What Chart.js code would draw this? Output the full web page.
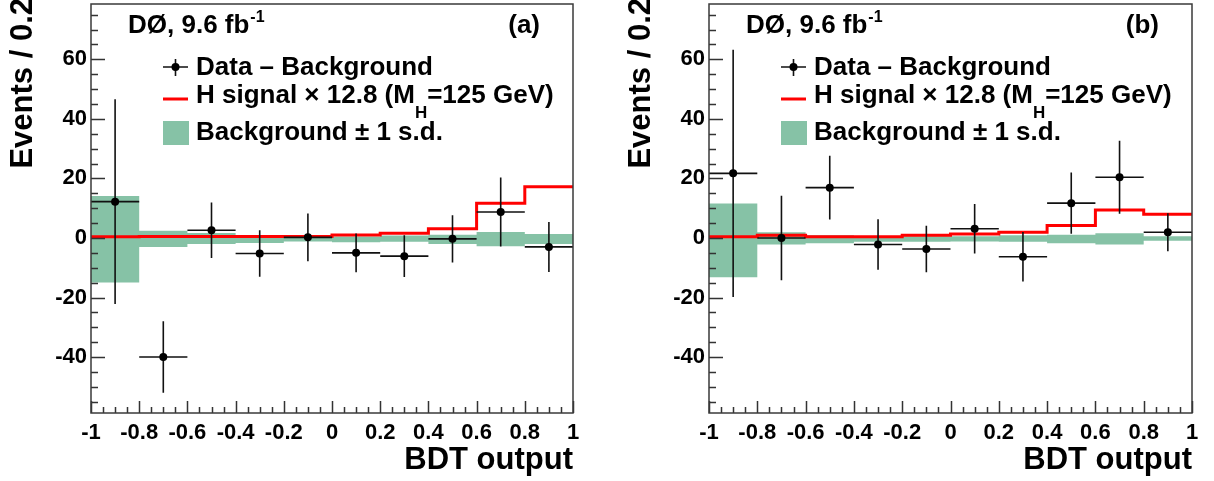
<!DOCTYPE html>
<html>
<head>
<meta charset="utf-8">
<script src="https://cdn.jsdelivr.net/npm/chart.js@4.4.0/dist/chart.umd.min.js"></script>
<style>
  body { margin: 0; background: #fff; }
  #wrap { position: relative; width: 1214px; height: 481px; }
  canvas { position: absolute; top: 0; }
</style>
</head>
<body>
<div id="wrap">
  <canvas id="panelA" width="607" height="481" style="left:0"></canvas>
  <canvas id="panelB" width="596" height="481" style="left:618px"></canvas>
</div>
<script>
// bins of the BDT output
const binEdges = [-1, -0.8, -0.6, -0.4, -0.2, 0, 0.2, 0.4, 0.6, 0.8, 1];
const binCenters = [-0.9, -0.7, -0.5, -0.3, -0.1, 0.1, 0.3, 0.5, 0.7, 0.9];
const xTickLabels = ['-1', '-0.8', '-0.6', '-0.4', '-0.2', '0', '0.2', '0.4', '0.6', '0.8', '1'];
const yTickValues = [-40, -20, 0, 20, 40, 60];

// panel (a)
const dataA = [12.2, -40, 2.6, -5.2, 0.2, -5, -6.1, -0.3, 8.7, -3];
const errA = [34.4, 12, 9.3, 7.8, 8, 6.5, 7, 7.9, 11.6, 8.4];
const signalA = [0.4, 0.5, 0.5, 0.5, 0.5, 1.0, 1.6, 3.1, 11.7, 17.2];
const bandHiA = [14.1, 2.4, 1.7, 0.9, 0.7, 0.5, 0.8, 1.1, 2.0, 1.3];
const bandLoA = [-15, -3, -2, -1.7, -1.2, -1.4, -1.3, -2, -2.8, -2];

// panel (b)
const dataB = [21.7, 0, 16.9, -2.2, -3.7, 3.1, -6.3, 11.7, 20.4, 1.9];
const errB = [41.5, 14.2, 10.7, 8.5, 7.8, 8.3, 8.3, 10.3, 12.3, 6.4];
const signalB = [0.4, 0.9, 0.4, 0.4, 0.9, 1.3, 1.9, 4.2, 9.4, 8.0];
const bandHiB = [11.6, 1.9, 0.9, 0.4, 0.6, 0.6, 0.9, 1.1, 1.6, 0.6];
const bandLoB = [-13.2, -2.2, -1.8, -1.3, -1.3, -1.2, -1.3, -1.8, -2.2, -0.9];

const FONT = '"Liberation Sans", Arial, Helvetica, sans-serif';
const GREEN = '#86c2a6';

// step line points: left edge of every bin plus the right end
function stepPoints(vals) {
    const pts = vals.map((v, i) => ({ x: binEdges[i], y: v }));
    pts.push({ x: binEdges[binEdges.length - 1], y: vals[vals.length - 1] });
    return pts;
}

function xErrPoints(vals) {
    const pts = [];
    vals.forEach((v, i) => {
        pts.push({ x: binEdges[i], y: v }, { x: binEdges[i + 1], y: v }, { x: binEdges[i + 1], y: null });
    });
    return pts;
}

function yErrPoints(vals, errs) {
    const pts = [];
    vals.forEach((v, i) => {
        pts.push({ x: binCenters[i], y: v - errs[i] }, { x: binCenters[i], y: v + errs[i] }, { x: binCenters[i], y: null });
    });
    return pts;
}

function noPad(s) {
    s.paddingTop = 0;
    s.paddingBottom = 0;
    s.paddingLeft = 0;
    s.paddingRight = 0;
}

// inward ticks, frame, titles and legend
const decorPlugin = {
    id: 'decor',
    afterDraw(chart, args, opts) {
        const ctx = chart.ctx;
        const a = chart.chartArea;
        const xs = chart.scales.x, ys = chart.scales.y;
        ctx.save();

        // ticks
        ctx.strokeStyle = '#333';
        ctx.lineWidth = 1.5;
        ctx.beginPath();
        for (let k = 0; k <= 40; k++) {
            const v = -1 + k * 0.05;
            const px = Math.round(xs.getPixelForValue(v)) + 0.5;
            const len = (k % 4 === 0) ? 12 : 6;
            ctx.moveTo(px, a.bottom);
            ctx.lineTo(px, a.bottom - len);
        }
        for (let v = -55; v <= 75; v += 5) {
            const py = Math.round(ys.getPixelForValue(v)) + 0.5;
            const len = (v % 20 === 0) ? 14 : 7;
            ctx.moveTo(a.left, py);
            ctx.lineTo(a.left + len, py);
        }
        ctx.stroke();

        // frame
        ctx.strokeStyle = '#3a3a3a';
        ctx.lineWidth = 1.5;
        ctx.strokeRect(a.left, a.top, a.right - a.left, a.bottom - a.top);

        ctx.fillStyle = '#000';
        ctx.textBaseline = 'alphabetic';

        // y title
        ctx.save();
        ctx.translate(32, -2);
        ctx.rotate(-Math.PI / 2);
        ctx.textAlign = 'right';
        ctx.font = 'bold 31px ' + FONT;
        ctx.fillText('Events / 0.2', 0, 0);
        ctx.restore();

        // x title
        ctx.textAlign = 'right';
        ctx.font = 'bold 31px ' + FONT;
        ctx.fillText('BDT output', a.right, 469);

        // experiment label
        ctx.textAlign = 'left';
        ctx.font = 'bold 26px ' + FONT;
        const lx = a.left + 37;
        ctx.fillText('D\u00d8, 9.6 fb', lx, 33);
        let w = ctx.measureText('D\u00d8, 9.6 fb').width;
        ctx.font = 'bold 16px ' + FONT;
        ctx.fillText('-1', lx + w + 1, 22);

        // panel label
        ctx.textAlign = 'right';
        ctx.font = 'bold 26px ' + FONT;
        ctx.fillText(opts.label, a.right - 33, 33);

        // legend symbols
        const mx1 = a.left + 72, mx2 = a.left + 97, tx = a.left + 105;
        ctx.strokeStyle = '#111';
        ctx.lineWidth = 1.6;
        ctx.beginPath();
        ctx.moveTo(mx1, 67); ctx.lineTo(mx2, 67);
        ctx.moveTo((mx1 + mx2) / 2, 59); ctx.lineTo((mx1 + mx2) / 2, 76);
        ctx.stroke();
        ctx.beginPath();
        ctx.arc((mx1 + mx2) / 2, 67, 4, 0, Math.PI * 2);
        ctx.fill();

        ctx.strokeStyle = '#ff0000';
        ctx.lineWidth = 3;
        ctx.beginPath();
        ctx.moveTo(mx1, 99); ctx.lineTo(mx2, 99);
        ctx.stroke();

        ctx.fillStyle = GREEN;
        ctx.fillRect(mx1, 121, mx2 - mx1 + 1, 24);

        // legend text
        ctx.fillStyle = '#000';
        ctx.textAlign = 'left';
        ctx.font = 'bold 26px ' + FONT;
        ctx.fillText('Data \u2013 Background', tx, 75);
        const s1 = 'H signal \u00d7 12.8 (M';
        ctx.fillText(s1, tx, 103);
        w = ctx.measureText(s1).width;
        ctx.font = 'bold 17px ' + FONT;
        ctx.fillText('H', tx + w, 118);
        const w2 = ctx.measureText('H').width;
        ctx.font = 'bold 26px ' + FONT;
        ctx.fillText('=125 GeV)', tx + w + w2, 103);
        ctx.fillText('Background \u00b1 1 s.d.', tx, 140);

        ctx.restore();
    }
};

function makePanel(id, label, rightPad, vals, errs, signal, bandHi, bandLo) {
    const ctx = document.getElementById(id).getContext('2d');
    return new Chart(ctx, {
        type: 'line',
        data: {
            datasets: [
                {
                    data: stepPoints(bandLo),
                    stepped: 'before',
                    borderWidth: 0,
                    pointRadius: 0,
                    fill: false,
                    order: 4
                },
                {
                    data: stepPoints(bandHi),
                    stepped: 'before',
                    borderWidth: 0,
                    pointRadius: 0,
                    backgroundColor: GREEN,
                    fill: '-1',
                    order: 3
                },
                {
                    data: stepPoints(signal),
                    stepped: 'before',
                    borderColor: '#ff0000',
                    borderWidth: 3,
                    pointRadius: 0,
                    fill: false,
                    order: 2
                },
                {
                    data: xErrPoints(vals),
                    borderColor: '#111',
                    borderWidth: 1.6,
                    pointRadius: 0,
                    spanGaps: false,
                    fill: false,
                    order: 1
                },
                {
                    data: yErrPoints(vals, errs),
                    borderColor: '#111',
                    borderWidth: 1.6,
                    pointRadius: 0,
                    spanGaps: false,
                    fill: false,
                    order: 1
                },
                {
                    data: vals.map((v, i) => ({ x: binCenters[i], y: v })),
                    showLine: false,
                    pointRadius: 4,
                    pointBackgroundColor: '#000',
                    pointBorderWidth: 0,
                    order: 0
                }
            ]
        },
        options: {
            responsive: false,
            devicePixelRatio: 1,
            animation: false,
            events: [],
            layout: { padding: { top: 1, right: rightPad, bottom: 0, left: 0 } },
            plugins: {
                legend: { display: false },
                tooltip: { enabled: false },
                decor: { label: label }
            },
            scales: {
                x: {
                    type: 'linear',
                    min: -1,
                    max: 1,
                    afterFit: s => { s.height = 68; noPad(s); },
                    afterBuildTicks: s => { s.ticks = binEdges.map(v => ({ value: v })); },
                    grid: { display: false, drawTicks: false },
                    border: { display: false },
                    ticks: {
                        autoSkip: false,
                        maxRotation: 0,
                        padding: 7,
                        color: '#000',
                        font: { family: FONT, size: 22, weight: 'bold' },
                        callback: (v, i) => xTickLabels[i]
                    }
                },
                y: {
                    type: 'linear',
                    min: -58.8,
                    max: 78.6,
                    afterFit: s => { s.width = 91; noPad(s); },
                    afterBuildTicks: s => { s.ticks = yTickValues.map(v => ({ value: v })); },
                    grid: { display: false, drawTicks: false },
                    border: { display: false },
                    ticks: {
                        padding: 4,
                        color: '#000',
                        font: { family: FONT, size: 22, weight: 'bold' },
                        callback: v => String(v)
                    }
                }
            }
        },
        plugins: [decorPlugin]
    });
}

makePanel('panelA', '(a)', 34, dataA, errA, signalA, bandHiA, bandLoA);
makePanel('panelB', '(b)', 22, dataB, errB, signalB, bandHiB, bandLoB);
</script>
</body>
</html>
